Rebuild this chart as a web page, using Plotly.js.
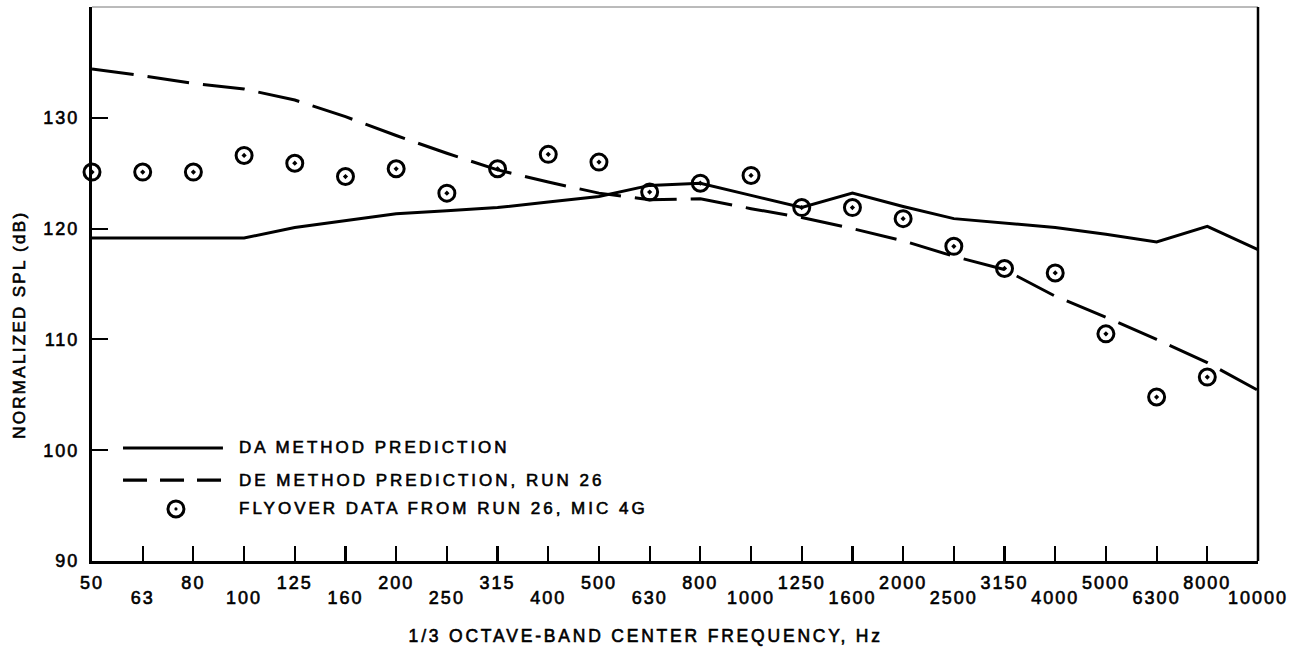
<!DOCTYPE html>
<html>
<head>
<meta charset="utf-8">
<script src="https://cdn.plot.ly/plotly-3.0.1.min.js"></script>
<style>
  html, body { margin: 0; padding: 0; background: #fff; }
  #chart { width: 1307px; height: 650px; }
  .main-svg text { stroke: #000; stroke-width: 0.6px; }
  .xtick text, .x2tick text, .ytick text { letter-spacing: 2px; }
  .annotation text { letter-spacing: 3px; }
  .annotation[data-index="0"] text { letter-spacing: 2.8px; }
  .annotation[data-index="1"] text { letter-spacing: 2.3px; }
</style>
</head>
<body>
<div id="chart"></div>
<script>
// 1/3 octave-band centre frequencies, Hz
const bands = ['50', '63', '80', '100', '125', '160', '200', '250', '315', '400', '500', '630',
  '800', '1000', '1250', '1600', '2000', '2500', '3150', '4000', '5000', '6300', '8000', '10000'];

// DA method prediction, dB (one value per band)
const daPrediction = [119.15, 119.15, 119.15, 119.15, 120.1, 120.7, 121.35, 121.6, 121.9, 122.4, 122.9, 123.9,
  124.1, 123.0, 121.9, 123.2, 122.0, 120.9, 120.5, 120.1, 119.5, 118.8, 120.2, 118.1];

// DE method prediction, run 26, dB
const dePrediction = [134.4, 133.8, 133.1, 132.6, 131.6, 130.1, 128.4, 126.8, 125.3, 124.2, 123.2, 122.6,
  122.7, 121.8, 121.0, 120.0, 118.9, 117.5, 116.3, 113.9, 112.0, 110.0, 107.9, 105.4];

// Flyover data from run 26, mic 4G, dB (50 Hz .. 8000 Hz)
const flyover = [125.1, 125.1, 125.1, 126.6, 125.9, 124.7, 125.4, 123.2, 125.4, 126.7, 126.0, 123.3,
  124.1, 124.8, 121.9, 121.9, 120.9, 118.4, 116.4, 116.0, 110.5, 104.8, 106.6];

const yTicks = [90, 100, 110, 120, 130];

const legendLabels = ['DA METHOD PREDICTION', 'DE METHOD PREDICTION, RUN 26', 'FLYOVER DATA FROM RUN 26, MIC 4G'];
const xTitle = '1/3 OCTAVE-BAND CENTER FREQUENCY, Hz';
const yTitle = 'NORMALIZED SPL (dB)';

// band position on the x scale = its index in the band list
const pos = bands.map((_, i) => i);
const evenPos = pos.filter(i => i % 2 === 0);
const oddPos = pos.filter(i => i % 2 === 1);

const FONT = 'Liberation Sans, Arial, Helvetica, sans-serif';
const INK = '#000';

const traces = [
  {
    x: pos, y: daPrediction, type: 'scatter', mode: 'lines',
    line: { color: INK, width: 3 }, hoverinfo: 'skip', showlegend: false
  },
  {
    x: pos, y: dePrediction, type: 'scatter', mode: 'lines',
    line: { color: INK, width: 3, dash: '42px,14px' }, hoverinfo: 'skip', showlegend: false
  },
  {
    x: pos.slice(0, flyover.length), y: flyover, type: 'scatter', mode: 'markers',
    marker: { symbol: 'circle-open-dot', size: 16, color: INK, line: { color: INK, width: 3 } },
    cliponaxis: false, hoverinfo: 'skip', showlegend: false
  }
];

// legend rows (y in dB units, x in plot fraction)
const legendRows = [100.2, 97.3, 94.7];
const legX0 = 0.0266, legX1 = 0.1123, legTextX = 0.1244, legMarkX = 0.072;

const shapes = [
  // thin top frame line
  { type: 'line', xref: 'paper', yref: 'paper', x0: 0, x1: 1, y0: 1, y1: 1,
    line: { color: '#777', width: 1 } },
  // right frame line
  { type: 'line', xref: 'paper', yref: 'paper', x0: 1, x1: 1, y0: 0, y1: 1,
    line: { color: INK, width: 2.5 } },
  // legend samples
  { type: 'line', xref: 'paper', yref: 'y', x0: legX0, x1: legX1, y0: legendRows[0], y1: legendRows[0],
    line: { color: INK, width: 3 } },
  { type: 'line', xref: 'paper', yref: 'y', x0: legX0, x1: legX1, y0: legendRows[1], y1: legendRows[1],
    line: { color: INK, width: 3.2, dash: '24px,13px' } },
  { type: 'circle', xref: 'paper', yref: 'y', xsizemode: 'pixel', ysizemode: 'pixel',
    xanchor: legMarkX, yanchor: legendRows[2], x0: -8, x1: 8, y0: -8, y1: 8,
    line: { color: INK, width: 3 } },
  { type: 'circle', xref: 'paper', yref: 'y', xsizemode: 'pixel', ysizemode: 'pixel',
    xanchor: legMarkX, yanchor: legendRows[2], x0: -1.6, x1: 1.6, y0: -1.6, y1: 1.6,
    fillcolor: INK, line: { color: INK, width: 0 } }
];

const annotations = [
  { text: xTitle, xref: 'paper', yref: 'paper', x: 0.4743, y: -0.1354, xanchor: 'center', yanchor: 'middle',
    showarrow: false, font: { family: FONT, size: 17.5, color: INK } },
  { text: yTitle, xref: 'paper', yref: 'y', x: -0.0626, y: 111.3, xanchor: 'center', yanchor: 'middle',
    textangle: -90, showarrow: false, font: { family: FONT, size: 17, color: INK } }
].concat(legendLabels.map((t, i) => ({
  text: t, xref: 'paper', yref: 'y', x: legTextX, y: legendRows[i], xanchor: 'left', yanchor: 'middle',
  align: 'left', showarrow: false, font: { family: FONT, size: 17, color: INK }
})));

const tickCommon = {
  type: 'linear', range: [0, bands.length - 1], tickmode: 'array',
  ticks: 'inside', ticklen: 15, tickwidth: 2.2, tickcolor: INK,
  showgrid: false, zeroline: false, fixedrange: true,
  tickfont: { family: FONT, size: 18, color: INK }
};

const layout = {
  width: 1307, height: 650,
  margin: { l: 92, r: 49, t: 7, b: 89, pad: 0 },
  paper_bgcolor: '#fff', plot_bgcolor: '#fff',
  showlegend: false,
  xaxis: Object.assign({}, tickCommon, {
    tickvals: evenPos, ticktext: evenPos.map(i => bands[i]),
    showline: true, linecolor: INK, linewidth: 2.5, mirror: false,
    ticklabelstandoff: 4
  }),
  xaxis2: Object.assign({}, tickCommon, {
    overlaying: 'x', anchor: 'y', side: 'bottom',
    tickvals: oddPos, ticktext: oddPos.map(i => bands[i]),
    showline: false, ticklabelstandoff: 24
  }),
  yaxis: {
    range: [90, 140], tickmode: 'array', tickvals: yTicks, ticktext: yTicks.map(String),
    ticks: 'inside', ticklen: 16, tickwidth: 2.2, tickcolor: INK,
    showline: true, linecolor: INK, linewidth: 3, mirror: false,
    showgrid: false, zeroline: false, fixedrange: true, ticklabelstandoff: 6,
    tickfont: { family: FONT, size: 18, color: INK }
  },
  shapes: shapes,
  annotations: annotations
};

// empty trace so the second (odd-band) axis is drawn
traces.push({ x: [], y: [], xaxis: 'x2', yaxis: 'y', type: 'scatter', mode: 'lines', hoverinfo: 'skip', showlegend: false });

Plotly.newPlot('chart', traces, layout, { displayModeBar: false, staticPlot: true });
</script>
</body>
</html>
